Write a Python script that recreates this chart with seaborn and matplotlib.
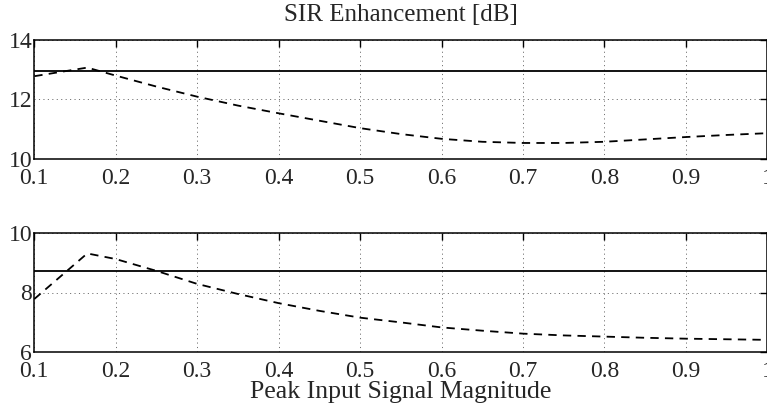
import numpy as np
import pandas as pd
import matplotlib
matplotlib.use("Agg")
import matplotlib.pyplot as plt
import seaborn as sns

# Peak input signal magnitude (x) and SIR enhancement in dB
magnitude = [0.1, 0.165, 0.2, 0.25, 0.3, 0.35, 0.4, 0.45, 0.5, 0.55,
             0.6, 0.65, 0.7, 0.75, 0.8, 0.85, 0.9, 0.95, 1.0]
sir_upper_dashed = [12.78, 13.07, 12.80, 12.43, 12.09, 11.79, 11.53, 11.28, 11.03, 10.83,
                    10.67, 10.57, 10.53, 10.53, 10.57, 10.65, 10.73, 10.80, 10.86]
sir_upper_solid = 12.96
sir_lower_dashed = [7.78, 9.32, 9.13, 8.73, 8.29, 7.95, 7.64, 7.38, 7.15, 6.99,
                    6.82, 6.71, 6.61, 6.55, 6.51, 6.47, 6.44, 6.42, 6.40]
sir_lower_solid = 8.73

x_ticks = [0.1, 0.2, 0.3, 0.4, 0.5, 0.6, 0.7, 0.8, 0.9, 1.0]
x_tick_labels = ["0.1", "0.2", "0.3", "0.4", "0.5", "0.6", "0.7", "0.8", "0.9", "1"]
upper_y_ticks = [10, 12, 14]
lower_y_ticks = [6, 8, 10]

sns.set_style("white")
plt.rcParams["font.family"] = ["Liberation Serif", "DejaVu Serif"]
plt.rcParams["lines.scale_dashes"] = False

W, H = 767, 409
fig = plt.figure(figsize=(W / 100, H / 100), dpi=100)

left = 34.3 / W
width = (767.4 - 34.3) / W
ax_top = fig.add_axes([left, 1 - 158.7 / H, width, 118.7 / H])
ax_bot = fig.add_axes([left, 1 - 351.7 / H, width, 118.4 / H])

panels = [
    (ax_top, sir_upper_dashed, sir_upper_solid, upper_y_ticks),
    (ax_bot, sir_lower_dashed, sir_lower_solid, lower_y_ticks),
]

for ax, dashed, solid, yticks in panels:
    df = pd.DataFrame({"magnitude": magnitude, "sir": dashed})
    sns.lineplot(data=df, x="magnitude", y="sir", ax=ax, color="black",
                 linewidth=1.3, linestyle=(0, (6.0, 4.5)), dash_capstyle="butt")
    ax.axhline(solid, color="black", linewidth=1.3)

    ax.set_xlim(0.1, 1.0)
    ax.set_ylim(yticks[0], yticks[-1])
    ax.set_xticks(x_ticks)
    ax.set_xticklabels(x_tick_labels)
    ax.set_yticks(yticks)
    ax.set_yticklabels([str(t) for t in yticks])
    ax.set_xlabel("")
    ax.set_ylabel("")

    ax.grid(True, color="0.35", linewidth=0.6, linestyle=(0, (0.8, 2.4)))
    ax.tick_params(direction="in", length=5, width=1.0, color="black",
                   top=True, right=True, labelsize=17)
    ax.tick_params(axis="x", pad=6.5)
    ax.tick_params(axis="y", pad=1.5)
    for sp in ax.spines.values():
        sp.set_visible(True)
        sp.set_color("black")
        sp.set_linewidth(1.1)

ax_top.set_title("SIR Enhancement [dB]", fontsize=18, pad=13.9)
ax_bot.set_xlabel("Peak Input Signal Magnitude", fontsize=18.5)
ax_bot.xaxis.label.set_va("baseline")
ax_bot.xaxis.set_label_coords(0.5, (351.7 - 398) / 118.4)

fig.savefig("out.png", dpi=100)
